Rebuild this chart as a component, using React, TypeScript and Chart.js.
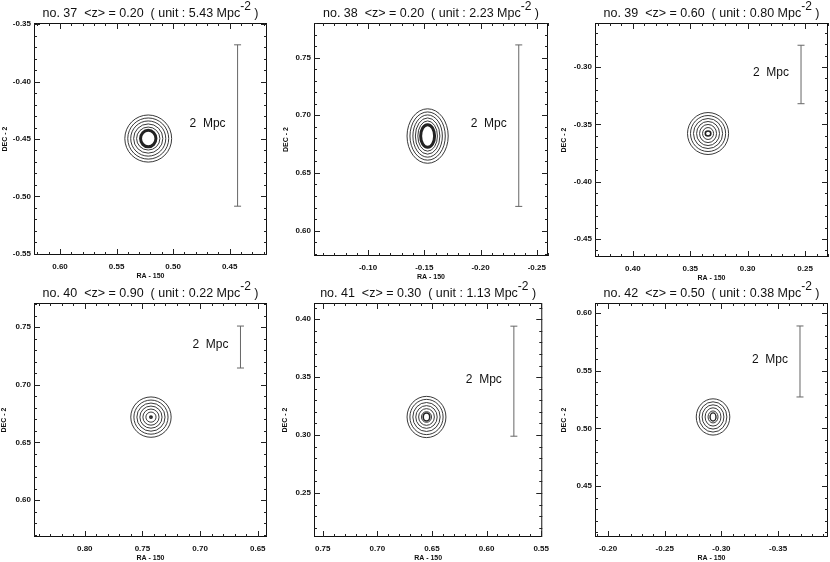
import React, { useEffect, useRef } from "react";
import { Chart, registerables } from "chart.js";
Chart.register(...registerables);

// ---------- data ----------
const panelNumbers = [37, 38, 39, 40, 41, 42];
const meanRedshifts = ["0.20", "0.20", "0.60", "0.90", "0.30", "0.50"];
const unitDensities = ["5.43", "2.23", "0.80", "0.22", "1.13", "0.38"];
const axisXTitle = "RA - 150";
const axisYTitle = "DEC - 2";
const scaleBarLabel = "2  Mpc";

// axis limits (degrees); RA increases to the left
const raLeft = [0.623, -0.052, 0.433, 0.844, 0.758, -0.1885];
const raRight = [0.417, -0.26, 0.23, 0.642, 0.549, -0.394];
const decBottom = [-0.551, 0.578, -0.4657, 0.568, 0.212, 0.406];
const decTop = [-0.349, 0.78, -0.2616, 0.771, 0.414, 0.6087];

const raTicks = [
  [0.6, 0.55, 0.5, 0.45],
  [-0.1, -0.15, -0.2, -0.25],
  [0.4, 0.35, 0.3, 0.25],
  [0.8, 0.75, 0.7, 0.65],
  [0.75, 0.7, 0.65, 0.6, 0.55],
  [-0.2, -0.25, -0.3, -0.35],
];
const decTicks = [
  [-0.55, -0.5, -0.45, -0.4, -0.35],
  [0.6, 0.65, 0.7, 0.75],
  [-0.45, -0.4, -0.35, -0.3],
  [0.6, 0.65, 0.7, 0.75],
  [0.25, 0.3, 0.35, 0.4],
  [0.45, 0.5, 0.55, 0.6],
];

// cluster centres (degrees)
const clusterRA = [0.522, -0.153, 0.3345, 0.7426, 0.655, -0.2926];
const clusterDEC = [-0.4496, 0.682, -0.358, 0.672, 0.3156, 0.51];

// contour half-sizes (degrees), outermost first; last one is the innermost level
const contourHalfRA = [
  [0.0207, 0.0181, 0.0155, 0.0129, 0.0103, 0.0068],
  [0.0183, 0.0157, 0.0131, 0.0109, 0.0087, 0.0062],
  [0.0179, 0.0153, 0.0127, 0.01, 0.0074, 0.0048, 0.0024],
  [0.0175, 0.0148, 0.0122, 0.0096, 0.007, 0.0044, 0.001],
  [0.0178, 0.0152, 0.0125, 0.0098, 0.0072, 0.0046, 0.003],
  [0.0148, 0.0122, 0.0096, 0.007, 0.0044, 0.0026],
];
const contourHalfDEC = [
  [0.0205, 0.0179, 0.0153, 0.0127, 0.01, 0.0072],
  [0.0236, 0.0209, 0.0183, 0.0157, 0.0131, 0.0098],
  [0.0183, 0.0157, 0.0131, 0.0105, 0.0079, 0.0052, 0.0022],
  [0.0175, 0.0148, 0.0122, 0.0096, 0.007, 0.0044, 0.001],
  [0.0178, 0.0152, 0.0125, 0.0098, 0.0072, 0.0046, 0.0035],
  [0.0157, 0.0131, 0.0105, 0.0079, 0.0052, 0.0035],
];
const innerContourWidth = [3, 3, 1.6, 1.6, 1.6, 1.4];

// 2 Mpc scale bars (degrees)
const barRA = [0.443, -0.234, 0.2535, 0.665, 0.575, -0.3693];
const barDecLow = [-0.5085, 0.621, -0.332, 0.7146, 0.299, 0.5273];
const barDecHigh = [-0.368, 0.761, -0.281, 0.751, 0.394, 0.5888];

// ---------- layout (pixels) ----------
const plotBoxes = [
  { left: 34, top: 23, width: 233, height: 232 },
  { left: 314, top: 23, width: 234, height: 233 },
  { left: 595, top: 23, width: 233, height: 234 },
  { left: 34, top: 303, width: 233, height: 234 },
  { left: 314, top: 303, width: 234, height: 234 },
  { left: 595, top: 303, width: 233, height: 234 },
];
const decTitleOffset = [29, 27.5, 30.5, 29.5, 28.5, 30.5];
const Y_AXIS_W = 34;
const TOP_PAD = 23;
const RIGHT_PAD = 8;
const X_AXIS_H = 28;
const FONT = "'Liberation Sans', Arial, Helvetica, sans-serif";

function makeDecor(i: number) {
  return {
    id: "decor" + i,
    afterDatasetsDraw(chart: any) {
      const ctx = chart.ctx as CanvasRenderingContext2D;
      const area = chart.chartArea;
      const xs = chart.scales.x;
      const ys = chart.scales.y;
      ctx.save();

      // frame
      ctx.strokeStyle = "#111";
      ctx.lineWidth = 1;
      ctx.strokeRect(area.left + 0.5, area.top + 0.5, area.right - area.left - 1, area.bottom - area.top - 1);

      // inward major + minor ticks on all four sides
      ctx.strokeStyle = "#222";
      ctx.beginPath();
      const xLo = Math.ceil(Math.min(xs.min, xs.max) * 100 - 1e-6);
      const xHi = Math.floor(Math.max(xs.min, xs.max) * 100 + 1e-6);
      for (let k = xLo; k <= xHi; k++) {
        const px = Math.round(xs.getPixelForValue(k / 100)) + 0.5;
        const len = k % 5 === 0 ? 6 : 3;
        ctx.moveTo(px, area.bottom);
        ctx.lineTo(px, area.bottom - len);
        ctx.moveTo(px, area.top);
        ctx.lineTo(px, area.top + len);
      }
      const yLo = Math.ceil(Math.min(ys.min, ys.max) * 100 - 1e-6);
      const yHi = Math.floor(Math.max(ys.min, ys.max) * 100 + 1e-6);
      for (let k = yLo; k <= yHi; k++) {
        const py = Math.round(ys.getPixelForValue(k / 100)) + 0.5;
        const len = k % 5 === 0 ? 6 : 3;
        ctx.moveTo(area.left, py);
        ctx.lineTo(area.left + len, py);
        ctx.moveTo(area.right, py);
        ctx.lineTo(area.right - len, py);
      }
      ctx.stroke();

      // density contours
      const cx = xs.getPixelForValue(clusterRA[i]);
      const cy = ys.getPixelForValue(clusterDEC[i]);
      const rxs = contourHalfRA[i];
      const rys = contourHalfDEC[i];
      ctx.strokeStyle = "#222";
      for (let k = 0; k < rxs.length; k++) {
        const rx = Math.abs(xs.getPixelForValue(clusterRA[i] + rxs[k]) - cx);
        const ry = Math.abs(ys.getPixelForValue(clusterDEC[i] + rys[k]) - cy);
        ctx.lineWidth = k === rxs.length - 1 ? innerContourWidth[i] : 0.9;
        ctx.beginPath();
        ctx.ellipse(cx, cy, Math.max(rx, 0.6), Math.max(ry, 0.6), 0, 0, Math.PI * 2);
        ctx.stroke();
      }

      // 2 Mpc label, left of the scale bar
      const bx = xs.getPixelForValue(barRA[i]);
      const bMid = (ys.getPixelForValue(barDecLow[i]) + ys.getPixelForValue(barDecHigh[i])) / 2;
      ctx.fillStyle = "#111";
      ctx.font = `12px ${FONT}`;
      ctx.textAlign = "right";
      ctx.textBaseline = "middle";
      ctx.fillText(scaleBarLabel, bx - 12, bMid - 2);

      // panel title with superscript
      const main = `no. ${panelNumbers[i]}  <z> = ${meanRedshifts[i]}  ( unit : ${unitDensities[i]} Mpc`;
      const sup = "-2";
      const tail = " )";
      ctx.font = `12.5px ${FONT}`;
      const wMain = ctx.measureText(main).width;
      const wTail = ctx.measureText(tail).width;
      ctx.font = `12px ${FONT}`;
      const wSup = ctx.measureText(sup).width;
      const total = wMain + wSup + wTail;
      const midX = (area.left + area.right) / 2;
      let tx = midX - total / 2;
      const base = area.top - 6;
      ctx.textAlign = "left";
      ctx.textBaseline = "alphabetic";
      ctx.font = `12.5px ${FONT}`;
      ctx.fillText(main, tx, base);
      tx += wMain;
      ctx.font = `12px ${FONT}`;
      ctx.fillText(sup, tx, base - 7);
      tx += wSup;
      ctx.font = `12.5px ${FONT}`;
      ctx.fillText(tail, tx, base);

      // axis titles
      ctx.font = `bold 7px ${FONT}`;
      ctx.textAlign = "center";
      ctx.textBaseline = "middle";
      ctx.fillText(axisXTitle, midX, area.bottom + 21);
      ctx.translate(area.left - decTitleOffset[i], (area.top + area.bottom) / 2);
      ctx.rotate(-Math.PI / 2);
      ctx.fillText(axisYTitle, 0, 0);
      ctx.restore();
    },
  };
}

function Panel({ i }: { i: number }) {
  const ref = useRef<HTMLCanvasElement | null>(null);
  const box = plotBoxes[i];
  const cw = box.width + Y_AXIS_W + RIGHT_PAD;
  const ch = box.height + TOP_PAD + X_AXIS_H;

  useEffect(() => {
    if (!ref.current) return;
    const tickFont = { family: FONT, size: 8, weight: "bold" as const };
    const chart = new Chart(ref.current, {
      type: "scatter",
      data: {
        datasets: [
          {
            data: [
              { x: barRA[i], y: barDecLow[i] },
              { x: barRA[i], y: barDecHigh[i] },
            ],
            showLine: true,
            borderColor: "#666",
            borderWidth: 1,
            pointStyle: "line",
            pointRadius: 3.5,
            pointBorderColor: "#666",
            pointBackgroundColor: "#666",
            pointBorderWidth: 1,
          },
        ],
      },
      options: {
        responsive: false,
        animation: false,
        events: [],
        layout: { padding: { left: 0, top: TOP_PAD, right: RIGHT_PAD, bottom: 0 } },
        plugins: { legend: { display: false }, tooltip: { enabled: false }, title: { display: false } },
        scales: {
          x: {
            type: "linear",
            min: raRight[i],
            max: raLeft[i],
            reverse: true,
            grid: { display: false, drawTicks: false },
            border: { display: false },
            afterBuildTicks: (s: any) => {
              s.ticks = raTicks[i].map((v) => ({ value: v }));
            },
            afterFit: (s: any) => {
              s.height = X_AXIS_H;
            },
            ticks: {
              autoSkip: false,
              maxRotation: 0,
              minRotation: 0,
              padding: 7,
              color: "#111",
              font: tickFont,
              callback: (v: any) => Number(v).toFixed(2),
            },
          },
          y: {
            type: "linear",
            min: decBottom[i],
            max: decTop[i],
            grid: { display: false, drawTicks: false },
            border: { display: false },
            afterBuildTicks: (s: any) => {
              s.ticks = decTicks[i].map((v) => ({ value: v }));
            },
            afterFit: (s: any) => {
              s.width = Y_AXIS_W;
            },
            ticks: {
              autoSkip: false,
              padding: 3,
              color: "#111",
              font: tickFont,
              callback: (v: any) => Number(v).toFixed(2),
            },
          },
        },
      },
      plugins: [makeDecor(i)],
    } as any);
    return () => chart.destroy();
  }, [i]);

  return (
    <canvas
      ref={ref}
      width={cw}
      height={ch}
      style={{
        position: "absolute",
        left: box.left - Y_AXIS_W,
        top: box.top - TOP_PAD,
        width: cw,
        height: ch,
      }}
    />
  );
}

export default function App() {
  return (
    <div
      style={{
        position: "fixed",
        left: 0,
        top: 0,
        width: 830,
        height: 562,
        background: "#fff",
        overflow: "hidden",
      }}
    >
      {panelNumbers.map((_, i) => (
        <Panel key={i} i={i} />
      ))}
    </div>
  );
}
